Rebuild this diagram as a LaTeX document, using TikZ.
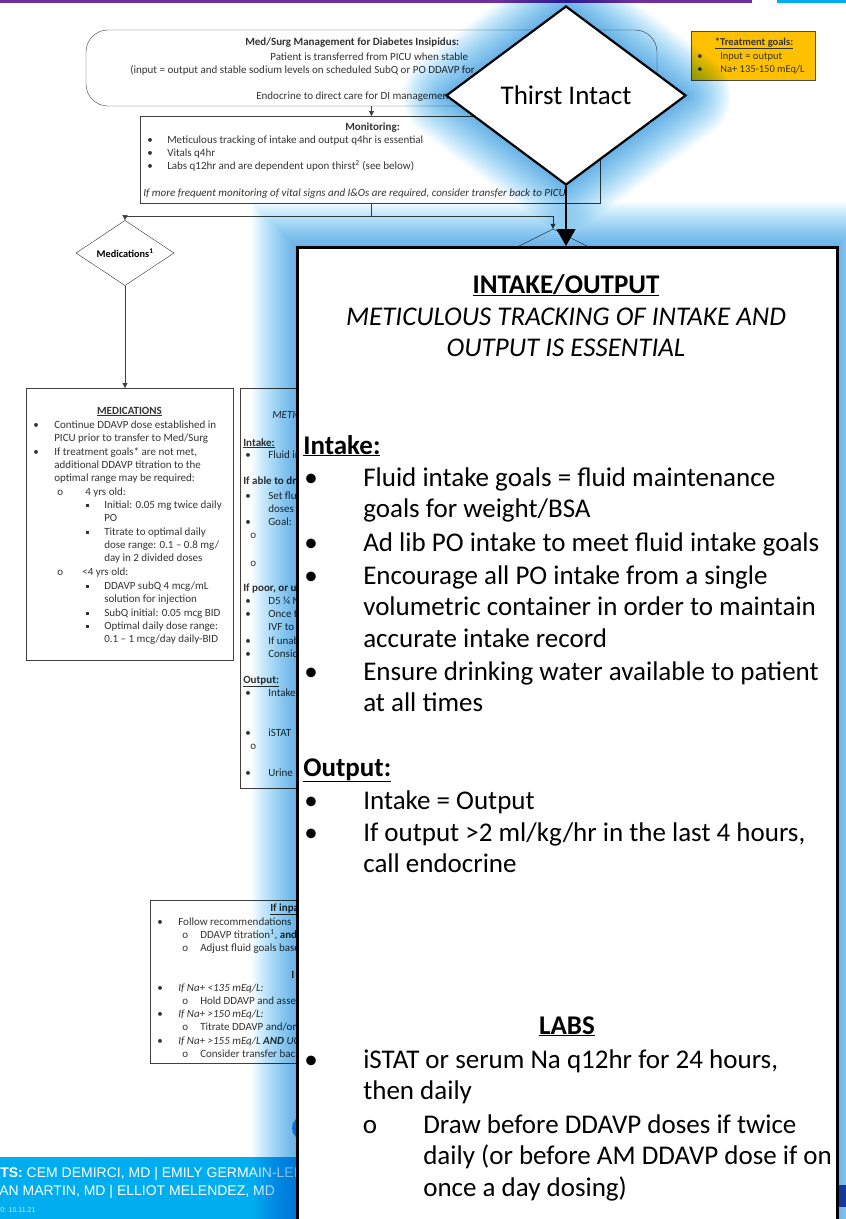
\documentclass[tikz,border=0pt]{standalone}
\usepackage{fontspec}
\setmainfont{Carlito}
\newfontfamily\footfont{Liberation Sans}
\usetikzlibrary{arrows.meta,shapes.geometric,positioning}
\definecolor{glowblue}{RGB}{110,200,245}
\definecolor{slidepurple}{RGB}{112,48,160}
\definecolor{slidecyan}{RGB}{0,174,239}
\definecolor{goalorange}{RGB}{255,192,0}
\definecolor{logoblue}{RGB}{55,80,170}
\newcommand{\sqbul}{\raisebox{1.3pt}{\rule{2.5pt}{2.5pt}}}
\begin{document}
\begin{tikzpicture}[x=1pt,y=-1pt,>={Triangle[length=5pt,width=5pt]},
                    semithick]
  \tikzstyle{bgtext}=[font=\fontsize{11}{13.4}\selectfont,
                                    text=black!80,
                                    inner sep=0pt,
                                    align=left,
                                    anchor=base west]
  \tikzstyle{bgbold}=[bgtext,font=\fontsize{11}{13.4}\selectfont\bfseries]
  \tikzstyle{bgital}=[bgtext,font=\fontsize{11}{13.4}\selectfont\itshape]
  \tikzstyle{flowbox}=[rectangle,draw=black!75,thin,inner sep=0pt]
  \tikzstyle{flowline}=[black!75,thin]
  \tikzstyle{flowdiam}=[diamond,draw=black!80,thin,inner sep=0pt,
                                    minimum width=98pt,
                                    minimum height=49pt,
                                    font=\fontsize{10.3}{11}\selectfont\bfseries]
  \tikzstyle{bigtext}=[font=\fontsize{27}{31.8}\selectfont,
                                    inner sep=0pt,
                                    align=left,
                                    anchor=base west]
  \tikzstyle{bigbold}=[bigtext,font=\fontsize{27}{31.8}\selectfont\bfseries]
  \tikzstyle{bigdot}=[bigtext,anchor=base]
  \useasboundingbox (0,0) rectangle (846,1219);
  %Slide bars
  \fill[slidepurple] (0,0) rectangle (752,2.5);
  \fill[slidecyan] (777,0) rectangle (846,2.5);
  %Slide boxes (multi-line texts sit on their last baseline)
  \node[flowbox,rounded corners=22pt,minimum width=571pt,minimum height=76pt] (mgmt) at (371.5,68) {};
  \node[bgbold] (mgmt1) at (245,45) {Med/Surg Management for Diabetes Insipidus:};
  \node[bgtext] (mgmt2) at (270,60) {Patient is transferred from PICU when stable};
  \node[bgtext] (mgmt3) at (130,73) {(input = output and stable sodium levels on scheduled SubQ or PO DDAVP for};
  \node[bgtext] (mgmt4) at (256,99) {Endocrine to direct care for DI management};
  \node[flowbox,minimum width=460pt,minimum height=87pt,anchor=north west] (monitor) at (140,116) {};
  \node[bgbold] (mon0) at (345,130) {Monitoring:};
  \node[bgtext] (monb) at (147,169.8) {•\\•\\•};
  \node[bgtext] (mont) at (167,169.8) {Meticulous tracking of intake and output q4hr is essential\\Vitals q4hr\\Labs q12hr and are dependent upon thirst\textsuperscript{2} (see below)};
  \node[bgital] (mon4) at (143,196) {If more frequent monitoring of vital signs and I\&Os are required, consider transfer back to PICU.};
  \node[flowdiam] (meds) at (125,253) {Medications\textsuperscript{1}};
  \node[flowdiam] (lowdiam) at (553,253.5) {};
  \node[flowbox,minimum width=207pt,minimum height=272pt,anchor=north west] (medbox) at (26,388) {};
  \node[bgbold,anchor=base] (med0) at (129.5,414) {\underline{MEDICATIONS}};
  \node[bgtext] (medb1) at (33,428) {•};
  \node[bgtext] (medt1) at (54,441.4) {Continue DDAVP dose established in\\PICU prior to transfer to Med/Surg};
  \node[bgtext] (medb2) at (33,455) {•};
  \node[bgtext] (medt2) at (54,481.8) {If treatment goals* are not met,\\additional DDAVP titration to the\\optimal range may be required:};
  \node[bgtext] (medo1) at (57,495) {o};
  \node[bgtext] (medt3) at (82,495) {\hspace{3pt}4 yrs old:};
  \node[bgtext] (meds1) at (86,508) {\sqbul};
  \node[bgtext] (medt4) at (104,521.4) {Initial: 0.05 mg twice daily\\PO};
  \node[bgtext] (meds2) at (86,535) {\sqbul};
  \node[bgtext] (medt5) at (104,561.8) {Titrate to optimal daily\\dose range: 0.1 – 0.8 mg/\\day in 2 divided doses};
  \node[bgtext] (medo2) at (57,575) {o};
  \node[bgtext] (medt6) at (82,575) {<4 yrs old:};
  \node[bgtext] (meds3) at (86,589) {\sqbul};
  \node[bgtext] (medt7) at (104,602.4) {DDAVP subQ 4 mcg/mL\\solution for injection};
  \node[bgtext] (meds4) at (86,616) {\sqbul};
  \node[bgtext] (medt8) at (104,616) {SubQ initial: 0.05 mcg BID};
  \node[bgtext] (meds5) at (86,629) {\sqbul};
  \node[bgtext] (medt9) at (104,642.4) {Optimal daily dose range:\\0.1 – 1 mcg/day daily-BID};
  \node[flowbox,minimum width=320pt,minimum height=400pt,anchor=north west] (infobox) at (240,388) {};
  \node[bgital] (inf0) at (272,418) {METICULOUS};
  \node[bgbold] (inf1) at (243,446) {\underline{Intake:}};
  \node[bgtext] (infb1) at (245,458) {•};
  \node[bgtext] (inft1) at (268,458) {Fluid intake};
  \node[bgbold] (inf2) at (243,484) {If able to drink};
  \node[bgtext] (infb2) at (245,525.8) {•\\\\•};
  \node[bgtext] (inft2) at (268,525.8) {Set fluid\\doses\\Goal:};
  \node[bgtext] (info1) at (250,538) {o};
  \node[bgtext] (info2) at (250,566) {o};
  \node[bgbold] (inf3) at (243,591) {If poor, or unable};
  \node[bgtext] (infb3) at (245,657.6) {•\\•\\\\•\\•};
  \node[bgtext] (inft3) at (268,657.6) {D5 ¼ NS\\Once the\\IVF to\\If unable\\Consider};
  \node[bgbold] (inf4) at (243,683) {\underline{Output:}};
  \node[bgtext] (infb4) at (245,696) {•};
  \node[bgtext] (inft4) at (268,696) {Intake};
  \node[bgtext] (infb5) at (245,736) {•};
  \node[bgtext] (inft5) at (268,736) {iSTAT};
  \node[bgtext] (info3) at (250,749) {o};
  \node[bgtext] (infb6) at (245,776) {•};
  \node[bgtext] (inft6) at (268,776) {Urine};
  \node[flowbox,minimum width=400pt,minimum height=163pt,anchor=north west] (inbox) at (150,900) {};
  \node[bgbold] (inb0) at (270,911) {\underline{If inpatient}};
  \node[bgtext] (inbb1) at (157,925) {•};
  \node[bgtext] (inbt1) at (178,925) {Follow recommendations};
  \node[bgtext] (inbo1) at (182,951.4) {o\\o};
  \node[bgtext] (inbt2) at (200,951.4) {DDAVP titration\textsuperscript{1}, \textbf{and}\\Adjust fluid goals based};
  \node[bgbold] (inb1) at (291,978) {I};
  \node[bgtext] (inbb2) at (157,1044.6) {•\\\\•\\\\•};
  \node[bgtext] (inbo2) at (182,1057.6) {o\\\\o\\\\o};
  \node[bgital] (inbt3) at (178,1044.6) {If Na+ <135 mEq/L:\\\\If Na+ >150 mEq/L:\\\\If Na+ >155 mEq/L \textbf{AND} UOP};
  \node[bgtext] (inbt4) at (200,1057.6) {Hold DDAVP and assess\\\\Titrate DDAVP and/or\\\\Consider transfer back};
  %Goals box
  \node[rectangle,draw=black!70,fill=goalorange,anchor=north west,minimum width=124pt,minimum height=49pt] (goals) at (691,31) {};
  \node[bgbold,font=\fontsize{10.5}{11}\selectfont\bfseries,anchor=base] (goal0) at (754,45) {\underline{*Treatment goals:}};
  \node[bgtext,font=\fontsize{10.5}{13}\selectfont] (goalb) at (697,72) {•\\•};
  \node[bgtext,font=\fontsize{10.5}{13}\selectfont] (goalt) at (720,72) {Input = output\\Na+ 135-150 mEq/L};
  %Footer
  \fill[slidecyan] (0,1157) rectangle (300,1219);
  \node[circle,fill=slidecyan,minimum size=24pt,inner sep=0pt] (dot) at (304,1128) {};
  \node[anchor=base west,inner sep=0pt,text=white,font=\footfont\fontsize{14}{17}\selectfont] (cred1) at (0,1177) {\textbf{TS:} CEM DEMIRCI, MD | EMILY GERMAIN-LEE};
  \node[anchor=base west,inner sep=0pt,text=white,font=\footfont\fontsize{14}{17}\selectfont] (cred2) at (-1,1195) {AN MARTIN, MD | ELLIOT MELENDEZ, MD};
  \node[anchor=base west,inner sep=0pt,text=white!75!slidecyan,font=\footfont\fontsize{7}{8}\selectfont] (cred3) at (0,1212) {0: 10.11.21};
  \fill[logoblue] (837,1185) rectangle (846,1207);
  %Edges of the slide
  \draw[->,flowline] (mgmt.south) -- (mgmt.south |- monitor.north);
  \draw[flowline] (monitor.south -| mgmt.south) -- ++(0,13) coordinate (split);
  \draw[->,flowline] (split) -| (meds.north);
  \draw[->,flowline] (split) -| (lowdiam.north);
  \draw[->,flowline] (meds.south) -- (meds.south |- medbox.north);
  %Glow
  \begin{scope}[blend mode=multiply]
    \foreach \w in {88,84,...,4} {
      \draw[glowblue,line width=\w pt,opacity=0.068,line join=round]
        (566,6) -- (687,96) -- (566,185) -- (447,96) -- cycle;
      \draw[glowblue,line width=\w pt,opacity=0.068]
        (296,246) rectangle (836,1280);
    }
  \end{scope}
  %Callout
  \node[diamond,draw=black,line width=2.2pt,fill=white,inner sep=0pt,
        minimum width=240pt,minimum height=179pt,
        font=\fontsize{27}{30}\selectfont] (thirst) at (566,95.5) {Thirst Intact};
  \node[rectangle,draw=black,line width=2.8pt,fill=white,anchor=north west,
        minimum width=540pt,minimum height=1040pt] (io) at (296,246) {};
  \draw[-{Triangle[length=17pt,width=19pt]},line width=1.1pt] (thirst.south) -- (thirst.south |- io.north);
  \node[bigbold,anchor=base] (iohead) at (566,293) {\underline{INTAKE/OUTPUT}};
  \node[bigtext,font=\fontsize{27}{31.8}\selectfont\itshape,align=center,anchor=base] (iosub) at (566,356.8) {METICULOUS TRACKING OF INTAKE AND\\OUTPUT IS ESSENTIAL};
  \node[bigbold] (inhead) at (303,454) {\underline{Intake:}};
  \node[bigdot] (ib1) at (311,486) {•};
  \node[bigtext] (it1) at (363,517.8) {Fluid intake goals = fluid maintenance\\goals for weight/BSA};
  \node[bigdot] (ib2) at (311,551) {•};
  \node[bigtext] (it2) at (363,551) {Ad lib PO intake to meet fluid intake goals};
  \node[bigdot] (ib3) at (311,584) {•};
  \node[bigtext] (it3) at (363,647.6) {Encourage all PO intake from a single\\volumetric container in order to maintain\\accurate intake record};
  \node[bigdot] (ib4) at (311,680) {•};
  \node[bigtext] (it4) at (363,711.8) {Ensure drinking water available to patient\\at all times};
  \node[bigbold] (outhead) at (303,776) {\underline{Output:}};
  \node[bigdot] (ob1) at (311,809) {•};
  \node[bigtext] (ot1) at (363,809) {Intake = Output};
  \node[bigdot] (ob2) at (311,841) {•};
  \node[bigtext] (ot2) at (363,872.8) {If output >2 ml/kg/hr in the last 4 hours,\\call endocrine};
  \node[bigbold,anchor=base] (labhead) at (567,1034) {\underline{LABS}};
  \node[bigdot] (lb1) at (311,1068) {•};
  \node[bigtext] (lt1) at (363,1099.8) {iSTAT or serum Na q12hr for 24 hours,\\then daily};
  \node[bigdot] (lb2) at (370,1133) {o};
  \node[bigtext] (lt2) at (423,1196.6) {Draw before DDAVP doses if twice\\daily (or before AM DDAVP dose if on\\once a day dosing)};
\end{tikzpicture}
\end{document}
